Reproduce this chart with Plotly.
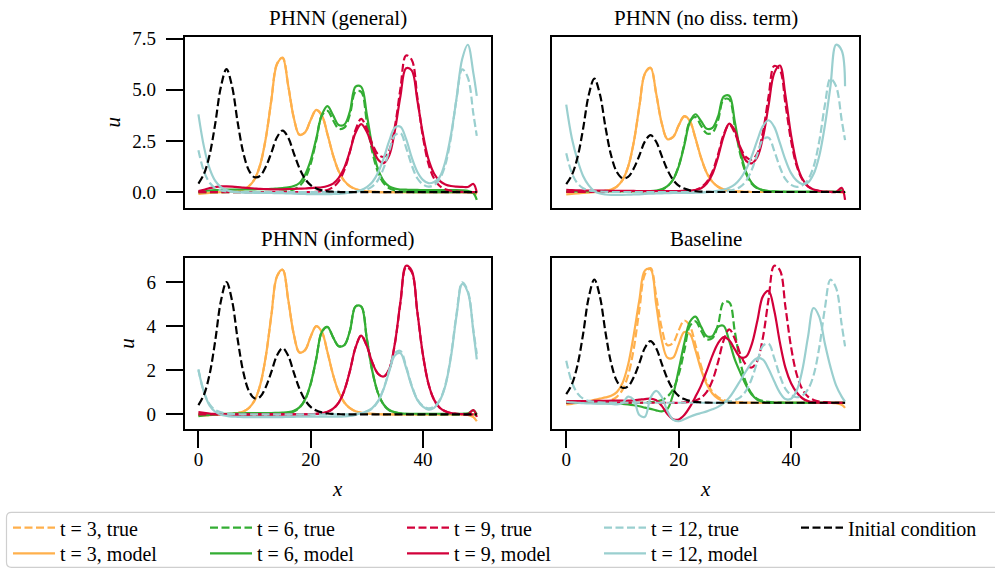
import plotly.graph_objects as go

# ---------------- data ----------------
X = [0, 1, 2, 3, 4, 5, 6, 7, 8, 9,
     10, 11, 12, 13, 14, 15, 16, 17, 18, 19,
     20, 21, 22, 23, 24, 25, 26, 27, 28, 29,
     30, 31, 32, 33, 34, 35, 36, 37, 38, 39,
     40, 41, 42, 43, 44, 45, 46, 47, 48, 49,
     49.6]

TIMES = [3, 6, 9, 12]
PANEL_TITLES = ["PHNN (general)", "PHNN (no diss. term)", "PHNN (informed)", "Baseline"]

TRUE_IC = [0.42, 0.90, 1.83, 3.35, 5.14, 6.01, 5.16, 3.40, 1.92, 1.06,
           0.73, 0.80, 1.24, 1.93, 2.68, 3.01, 2.66, 1.90, 1.17, 0.65,
           0.34, 0.18, 0.09, 0.04, 0.02, 0.01, 0, 0, 0, 0,
           0, 0, 0, 0, 0, 0, 0, 0, 0, 0,
           0, 0, 0, 0, 0, 0, 0, 0, 0, 0,
           0]
TRUE_T3 = [0, 0, 0, 0, 0, 0.01, 0.03, 0.06, 0.13, 0.29,
           0.63, 1.33, 2.62, 4.51, 6.27, 6.57, 5.21, 3.63, 2.81, 2.92,
           3.53, 4.01, 3.74, 2.82, 1.79, 1.01, 0.54, 0.28, 0.14, 0.07,
           0.04, 0.02, 0.01, 0, 0, 0, 0, 0, 0, 0,
           0, 0, 0, 0, 0, 0, 0, 0, 0, 0,
           0]
TRUE_T6 = [0, 0, 0, 0, 0, 0, 0, 0, 0, 0,
           0, 0, 0, 0, 0.01, 0.03, 0.06, 0.13, 0.30, 0.66,
           1.38, 2.53, 3.75, 3.97, 3.50, 3.10, 3.15, 3.80, 4.90, 4.90,
           3.45, 1.95, 0.97, 0.44, 0.19, 0.09, 0.04, 0.02, 0.01, 0,
           0, 0, 0, 0, 0, 0, 0, 0, 0, 0,
           0]
TRUE_T9 = [0, 0, 0, 0, 0, 0, 0, 0, 0, 0,
           0, 0, 0, 0, 0, 0, 0, 0, 0, 0,
           0, 0.02, 0.05, 0.11, 0.25, 0.53, 1.08, 1.98, 3.04, 3.58,
           3.11, 2.35, 1.85, 1.72, 2.05, 3.20, 5.07, 6.68, 6.47, 4.66,
           2.71, 1.38, 0.66, 0.30, 0.14, 0.06, 0.03, 0.01, 0, 0,
           0]
TRUE_T12 = [2.05, 1.00, 0.46, 0.20, 0.09, 0.04, 0.02, 0.01, 0, 0,
            0, 0, 0, 0, 0, 0, 0, 0, 0, 0,
            0, 0, 0, 0, 0, 0, 0, 0, 0.03, 0.06,
            0.13, 0.28, 0.59, 1.17, 2.01, 2.78, 2.88, 2.18, 1.32, 0.68,
            0.38, 0.27, 0.35, 0.65, 1.34, 2.68, 4.58, 6.00, 5.60, 3.81,
            2.75]

# PHNN (general)
GEN_T3 = [-0.08, -0.06, -0.04, -0.02, 0, 0.01, 0.03, 0.06, 0.13, 0.29,
          0.63, 1.33, 2.62, 4.50, 6.25, 6.55, 5.20, 3.62, 2.80, 2.92,
          3.53, 4.02, 3.75, 2.83, 1.80, 1.02, 0.55, 0.29, 0.15, 0.08,
          0.04, 0.02, 0.01, 0, 0, 0, 0, 0, 0, 0,
          0, 0, 0, 0, 0, 0, 0, 0, -0.01, -0.03,
          -0.10]
GEN_T6 = [0.00, 0.05, 0.08, 0.10, 0.11, 0.12, 0.12, 0.13, 0.13, 0.14,
          0.14, 0.15, 0.15, 0.16, 0.18, 0.20, 0.23, 0.30, 0.45, 0.85,
          1.55, 2.62, 3.78, 4.20, 3.75, 3.28, 3.30, 3.95, 5.15, 5.15,
          3.80, 2.20, 1.12, 0.55, 0.28, 0.17, 0.13, 0.12, 0.11, 0.11,
          0.10, 0.10, 0.10, 0.10, 0.10, 0.10, 0.10, 0.09, 0.06, -0.05,
          -0.38]
GEN_T9 = [0.05, 0.12, 0.20, 0.25, 0.28, 0.28, 0.27, 0.25, 0.22, 0.20,
          0.18, 0.16, 0.15, 0.14, 0.14, 0.14, 0.15, 0.16, 0.17, 0.18,
          0.20, 0.22, 0.24, 0.30, 0.42, 0.70, 1.20, 2.00, 2.90, 3.32,
          2.95, 2.20, 1.60, 1.42, 1.80, 3.00, 4.70, 6.05, 5.95, 4.50,
          2.85, 1.60, 0.90, 0.55, 0.38, 0.30, 0.27, 0.26, 0.25, 0.40,
          -0.03]
GEN_T12 = [3.80, 2.20, 1.15, 0.55, 0.25, 0.10, 0.03, 0.00, -0.02, -0.02,
           -0.03, -0.03, -0.04, -0.04, -0.05, -0.05, -0.06, -0.07, -0.08, -0.09,
           -0.10, -0.10, -0.10, -0.10, -0.09, -0.08, -0.06, -0.03, 0.02, 0.10,
           0.25, 0.50, 0.95, 1.65, 2.50, 3.15, 3.20, 2.60, 1.70, 1.00,
           0.60, 0.44, 0.50, 0.75, 1.50, 2.80, 4.60, 6.50, 7.20, 5.80,
           4.70]

# PHNN (no diss. term)
ND_T3 = [-0.12, -0.10, -0.08, -0.05, -0.03, -0.01, 0.02, 0.06, 0.13, 0.29,
         0.63, 1.33, 2.62, 4.52, 6.28, 6.58, 5.22, 3.63, 2.80, 2.90,
         3.52, 4.02, 3.76, 2.84, 1.80, 1.01, 0.54, 0.28, 0.14, 0.07,
         0.04, 0.02, 0.01, 0, 0, 0, 0, 0, 0, 0,
         0, 0, 0, 0, 0, 0, 0, 0, 0, -0.02,
         -0.06]
ND_T6 = [0.05, 0.03, 0.03, 0.03, 0.03, 0.03, 0.03, 0.03, 0.03, 0.03,
         0.03, 0.03, 0.03, 0.03, 0.04, 0.05, 0.08, 0.15, 0.31, 0.65,
         1.34, 2.47, 3.72, 4.12, 3.75, 3.35, 3.40, 4.00, 5.05, 5.10,
         3.70, 2.10, 1.05, 0.48, 0.21, 0.10, 0.05, 0.03, 0.02, 0.02,
         0.02, 0.02, 0.02, 0.02, 0.02, 0.02, 0.02, 0.02, 0.02, 0.08,
         -0.05]
ND_T9 = [0.12, 0.10, 0.09, 0.08, 0.08, 0.07, 0.07, 0.07, 0.06, 0.06,
         0.06, 0.06, 0.06, 0.05, 0.05, 0.05, 0.05, 0.05, 0.05, 0.05,
         0.05, 0.06, 0.07, 0.10, 0.20, 0.45, 0.95, 1.85, 2.95, 3.62,
         3.25, 2.30, 1.65, 1.52, 1.85, 2.90, 4.60, 6.30, 6.70, 5.10,
         3.00, 1.50, 0.70, 0.30, 0.13, 0.05, 0.02, 0.00, 0.00, 0.22,
         -0.42]
ND_T12 = [4.63, 2.85, 1.70, 0.85, 0.35, 0.05, -0.08, -0.13, -0.15, -0.15,
          -0.15, -0.14, -0.13, -0.12, -0.10, -0.09, -0.08, -0.07, -0.06, -0.05,
          -0.05, -0.05, -0.05, -0.04, -0.03, -0.01, 0.02, 0.06, 0.12, 0.22,
          0.40, 0.72, 1.20, 1.90, 2.75, 3.50, 3.80, 3.45, 2.60, 1.70,
          1.00, 0.60, 0.42, 0.50, 0.95, 1.90, 3.50, 5.60, 7.80, 7.50,
          5.60]

# PHNN (informed)
INF_T3 = [-0.06, -0.05, -0.03, -0.02, 0, 0.01, 0.03, 0.06, 0.13, 0.29,
          0.63, 1.33, 2.62, 4.51, 6.27, 6.57, 5.21, 3.63, 2.81, 2.92,
          3.53, 4.01, 3.74, 2.82, 1.79, 1.01, 0.54, 0.28, 0.14, 0.07,
          0.04, 0.02, 0.01, 0, 0, 0, 0, 0, 0, 0,
          0, 0, 0, 0, 0, 0, 0, 0, -0.02, -0.12,
          -0.31]
INF_T6 = [-0.08, -0.05, -0.02, 0.00, 0.02, 0.03, 0.04, 0.05, 0.05, 0.06,
          0.06, 0.06, 0.06, 0.06, 0.07, 0.08, 0.10, 0.16, 0.32, 0.68,
          1.39, 2.53, 3.75, 3.97, 3.50, 3.10, 3.15, 3.80, 4.90, 4.90,
          3.45, 1.95, 0.97, 0.45, 0.20, 0.10, 0.05, 0.03, 0.03, 0.03,
          0.03, 0.03, 0.03, 0.03, 0.03, 0.03, 0.03, 0.03, 0.05, 0.18,
          0.00]
INF_T9 = [0.10, 0.07, 0.04, 0.02, 0.00, 0.00, -0.01, -0.01, -0.01, -0.01,
          0.00, 0.00, 0.00, 0.00, 0.00, 0.00, 0.00, 0.00, 0.00, 0.00,
          0.01, 0.03, 0.06, 0.12, 0.26, 0.54, 1.09, 1.98, 3.04, 3.58,
          3.11, 2.35, 1.85, 1.72, 2.05, 3.22, 5.12, 6.75, 6.53, 4.68,
          2.72, 1.38, 0.66, 0.30, 0.14, 0.06, 0.03, 0.01, 0.00, 0.20,
          -0.12]
INF_T12 = [2.00, 1.00, 0.40, 0.12, -0.02, -0.07, -0.10, -0.11, -0.12, -0.12,
           -0.12, -0.12, -0.12, -0.12, -0.12, -0.12, -0.11, -0.11, -0.10, -0.10,
           -0.10, -0.10, -0.10, -0.10, -0.10, -0.10, -0.09, -0.07, -0.02, 0.05,
           0.14, 0.30, 0.60, 1.15, 1.95, 2.68, 2.78, 2.12, 1.28, 0.66,
           0.35, 0.22, 0.30, 0.62, 1.30, 2.62, 4.50, 5.92, 5.55, 3.75,
           2.50]

# Baseline
BASE_T3 = [-0.08, -0.05, -0.01, 0.03, 0.08, 0.14, 0.20, 0.26, 0.34, 0.52,
           0.95, 1.85, 3.30, 5.00, 6.45, 6.50, 4.80, 3.05, 2.20, 2.20,
           2.85, 3.45, 3.35, 2.55, 1.60, 0.90, 0.45, 0.20, 0.08, 0.02,
           0.00, 0, 0, 0, 0, 0, 0, 0, 0, 0,
           0, 0, 0, 0, 0, 0, 0, 0, -0.02, -0.10,
           -0.25]
BASE_T6 = [0.00, 0.00, 0.00, 0.00, -0.01, -0.01, -0.02, -0.02, -0.03, -0.04,
           -0.05, -0.08, -0.12, -0.17, -0.24, -0.30, -0.37, -0.42, -0.30, 0.40,
           1.60, 2.90, 3.95, 4.20, 3.70, 3.25, 3.25, 3.70, 3.75, 3.00,
           2.10, 1.45, 0.85, 0.40, 0.15, 0.05, 0.00, 0, 0, 0,
           0, 0, 0, 0, 0, 0, 0, 0, 0, 0,
           0]
BASE_T9 = [0.08, 0.08, 0.08, 0.08, 0.08, 0.09, 0.09, 0.09, 0.10, 0.10,
           0.10, 0.10, 0.12, 0.15, 0.18, 0.20, 0.12, -0.15, -0.55, -0.80,
           -0.82, -0.60, -0.20, 0.30, 0.85, 1.55, 2.30, 2.90, 3.20, 3.05,
           2.60, 2.22, 2.25, 2.85, 4.00, 5.20, 5.45, 4.50, 2.95, 1.70,
           0.95, 0.50, 0.22, 0.08, 0.02, 0.00, 0, 0, 0, 0,
           0]
BASE_T12 = [0.05, 0.02, 0.00, -0.02, -0.03, -0.04, -0.04, -0.04, -0.05, -0.08,
            -0.02, 0.30, 0.15, -0.60, -0.68, 0.25, 0.58, 0.28, -0.40, -0.82,
            -0.90, -0.80, -0.68, -0.58, -0.50, -0.42, -0.32, -0.20, -0.02, 0.25,
            0.65, 1.10, 1.55, 1.95, 2.18, 2.10, 1.65, 1.05, 0.50, 0.18,
            0.20, 0.60, 1.60, 3.20, 4.62, 4.20, 2.90, 1.75, 0.85, 0.30,
            0.05]

X_TICKS = [0, 20, 40]
Y_TICKS_TOP = [0, 2.5, 5, 7.5]
Y_TICKTEXT_TOP = ["0.0", "2.5", "5.0", "7.5"]
Y_TICKS_BOTTOM = [0, 2, 4, 6]
Y_TICKTEXT_BOTTOM = ["0", "2", "4", "6"]

# ---------------- styling / layout ----------------
COLORS = ["#FFB04C", "#33AD33", "#D2003A", "#9ACFCF"]
IC_COLOR = "#000000"
FONT = "Liberation Serif"
DASH = "8px,3.5px"
LW = 2.2
W, H = 995, 569


def fx(p):
    return p / W


def fy(p):
    return 1 - p / H


X_DOM = [(184.5, 490.7), (552.3, 859.0)]
Y_DOM = [(37.0, 207.7), (258.0, 429.0)]

TRUE_SERIES = [TRUE_T3, TRUE_T6, TRUE_T9, TRUE_T12]
MODELS = [
    [GEN_T3, GEN_T6, GEN_T9, GEN_T12],
    [ND_T3, ND_T6, ND_T9, ND_T12],
    [INF_T3, INF_T6, INF_T9, INF_T12],
    [BASE_T3, BASE_T6, BASE_T9, BASE_T12],
]

fig = go.Figure()
for p in range(4):
    suf = "" if p == 0 else str(p + 1)
    for k in range(4):
        fig.add_trace(go.Scatter(
            x=X, y=TRUE_SERIES[k], mode="lines", name=f"t = {TIMES[k]}, true",
            line=dict(color=COLORS[k], width=LW, dash=DASH, shape="spline"),
            legend="legend", showlegend=(p == 0), xaxis="x" + suf, yaxis="y" + suf))
        fig.add_trace(go.Scatter(
            x=X, y=MODELS[p][k], mode="lines", name=f"t = {TIMES[k]}, model",
            line=dict(color=COLORS[k], width=LW, shape="spline"),
            legend="legend2", showlegend=(p == 0), xaxis="x" + suf, yaxis="y" + suf))
    fig.add_trace(go.Scatter(
        x=X, y=TRUE_IC, mode="lines", name="Initial condition",
        line=dict(color=IC_COLOR, width=LW, dash=DASH, shape="spline"),
        legend="legend", showlegend=(p == 0), xaxis="x" + suf, yaxis="y" + suf))

tickfont = dict(family=FONT, size=19, color="black")
axis_common = dict(showline=True, linecolor="black", linewidth=1.6, mirror=True,
                   showgrid=False, zeroline=False, tickcolor="black",
                   tickwidth=1.6, ticklen=17, tickfont=tickfont)

xspan = max(X) - min(X)
xr = [min(X) - 0.05 * xspan, max(X) + 0.05 * xspan]

layout_axes = {}
annotations = []
for p in range(4):
    row, col = divmod(p, 2)
    suf = "" if p == 0 else str(p + 1)
    vals = TRUE_IC + sum(TRUE_SERIES, []) + sum(MODELS[p], [])
    lo, hi = min(vals), max(vals)
    pad = 0.05 * (hi - lo)
    xa = dict(axis_common, domain=[fx(X_DOM[col][0]), fx(X_DOM[col][1])],
              anchor="y" + suf, range=xr, tickvals=X_TICKS)
    if row == 1:
        xa.update(ticks="outside", showticklabels=True, ticklabelstandoff=-5,
                  title=dict(text="<i>x</i>", font=dict(family=FONT, size=21, color="black"),
                             standoff=13))
    else:
        xa.update(ticks="", showticklabels=False)
    ya = dict(axis_common, domain=[fy(Y_DOM[row][1]), fy(Y_DOM[row][0])],
              anchor="x" + suf, range=[lo - pad, hi + pad])
    if col == 0:
        ya.update(ticks="outside", showticklabels=True, ticklabelstandoff=6,
                  tickvals=Y_TICKS_TOP if row == 0 else Y_TICKS_BOTTOM,
                  ticktext=Y_TICKTEXT_TOP if row == 0 else Y_TICKTEXT_BOTTOM,
                  title=dict(text="<i>u</i>", font=dict(family=FONT, size=21, color="black"),
                             standoff=6))
    else:
        ya.update(ticks="", showticklabels=False)
    layout_axes["xaxis" + suf] = xa
    layout_axes["yaxis" + suf] = ya
    annotations.append(dict(
        text=PANEL_TITLES[p], xref="paper", yref="paper",
        x=fx((X_DOM[col][0] + X_DOM[col][1]) / 2), y=fy(18 if row == 0 else 239),
        xanchor="center", yanchor="middle", showarrow=False,
        font=dict(family=FONT, size=21, color="black")))

legend_font = dict(family=FONT, size=20, color="black")
legend_common = dict(orientation="h", xanchor="left", yanchor="middle", x=fx(8),
                     entrywidth=140, entrywidthmode="pixels", itemwidth=42,
                     font=legend_font, bgcolor="rgba(0,0,0,0)", borderwidth=0,
                     traceorder="normal")

# legend frame (rounded on the left, runs off the right edge like the original)
L, R, T, B, r = 6.5, 1005, 512.3, 567.3, 5
frame = (f"M {fx(L + r)},{fy(T)} L {fx(R)},{fy(T)} L {fx(R)},{fy(B)} L {fx(L + r)},{fy(B)} "
         f"Q {fx(L)},{fy(B)} {fx(L)},{fy(B - r)} L {fx(L)},{fy(T + r)} "
         f"Q {fx(L)},{fy(T)} {fx(L + r)},{fy(T)} Z")

fig.update_layout(
    width=W, height=H, template="none",
    paper_bgcolor="white", plot_bgcolor="white",
    margin=dict(l=0, r=0, t=0, b=0, autoexpand=False),
    font=dict(family=FONT, color="black"),
    annotations=annotations,
    legend=dict(legend_common, y=fy(527.7)),
    legend2=dict(legend_common, y=fy(553.3)),
    shapes=[dict(type="path", path=frame, xref="paper", yref="paper",
                 line=dict(color="#CFCFCF", width=1.2), fillcolor="rgba(0,0,0,0)",
                 layer="below")],
    **layout_axes,
)

fig.write_html("out.html")
